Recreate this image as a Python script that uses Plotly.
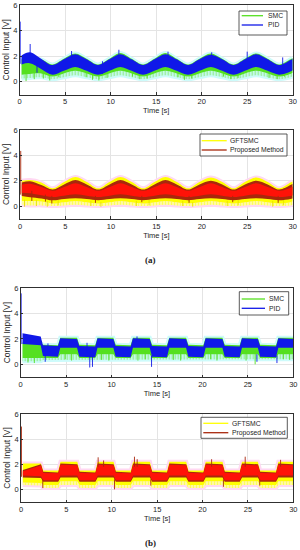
import plotly.graph_objects as go

# ---------------- (a) sinusoidal reference: envelope knots ----------------
ta = [0.2, 1.1, 2.35, 3.6, 4.85, 6.1, 7.35, 8.6, 9.85, 11.05, 12.3, 13.55, 14.8, 16.0, 17.25,
      18.5, 19.75, 21.0, 22.25, 23.5, 24.75, 26.0, 27.25, 28.5, 29.75, 30.0]

a_pid_hi = [2.05, 2.3, 1.8, 1.3, 1.75, 2.15, 1.75, 1.3, 1.75, 2.15, 1.75, 1.3, 1.75, 2.15, 1.75,
            1.3, 1.75, 2.1, 1.75, 1.3, 1.75, 2.15, 1.75, 1.3, 1.7, 1.8]
a_pid_lo = [1.35, 1.45, 1.0, 0.55, 0.85, 1.15, 0.85, 0.55, 0.85, 1.15, 0.85, 0.55, 0.85, 1.15, 0.85,
            0.55, 0.85, 1.15, 0.85, 0.55, 0.85, 1.15, 0.85, 0.55, 0.8, 0.9]
a_smc_hi = [1.75, 1.8, 1.75, 1.35, 1.8, 2.2, 1.8, 1.35, 1.8, 2.25, 1.8, 1.35, 1.8, 2.25, 1.8,
            1.35, 1.8, 2.2, 1.8, 1.35, 1.8, 2.2, 1.8, 1.35, 1.75, 1.85]
a_smc_mid = [0.55, 0.6, 0.65, 0.4, 0.65, 0.85, 0.65, 0.4, 0.65, 0.85, 0.65, 0.4, 0.65, 0.85, 0.65,
             0.4, 0.65, 0.85, 0.65, 0.4, 0.65, 0.85, 0.65, 0.4, 0.6, 0.7]
a_smc_lo = [0.25, 0.3, 0.35, 0.2, 0.35, 0.5, 0.35, 0.2, 0.35, 0.5, 0.35, 0.2, 0.35, 0.5, 0.35,
            0.2, 0.35, 0.5, 0.35, 0.2, 0.35, 0.5, 0.35, 0.2, 0.35, 0.4]

a_prop_hi = [1.85, 1.95, 1.65, 1.3, 1.7, 2.05, 1.7, 1.3, 1.7, 2.05, 1.7, 1.3, 1.7, 2.05, 1.7,
             1.3, 1.7, 2.0, 1.7, 1.3, 1.7, 2.0, 1.7, 1.3, 1.65, 1.75]
a_prop_core_hi = [1.7, 1.75, 1.5, 1.2, 1.5, 1.8, 1.5, 1.2, 1.5, 1.8, 1.5, 1.2, 1.5, 1.8, 1.5,
                  1.2, 1.5, 1.8, 1.5, 1.2, 1.5, 1.8, 1.5, 1.2, 1.45, 1.55]
a_prop_core_lo = [1.05, 1.0, 0.85, 0.72, 0.82, 0.92, 0.82, 0.72, 0.82, 0.92, 0.82, 0.72, 0.82, 0.92, 0.82,
                  0.72, 0.82, 0.92, 0.82, 0.72, 0.82, 0.92, 0.82, 0.72, 0.8, 0.85]
a_prop_lo = [0.8, 0.7, 0.6, 0.45, 0.55, 0.62, 0.55, 0.45, 0.55, 0.62, 0.55, 0.45, 0.55, 0.62, 0.55,
             0.45, 0.55, 0.62, 0.55, 0.45, 0.55, 0.62, 0.55, 0.45, 0.55, 0.6]
a_gft_hi = [2.0, 2.05, 1.85, 1.4, 1.9, 2.3, 1.9, 1.4, 1.9, 2.3, 1.9, 1.4, 1.9, 2.3, 1.9,
            1.4, 1.9, 2.25, 1.9, 1.4, 1.9, 2.25, 1.9, 1.4, 1.85, 1.95]
a_gft_mid = [0.4, 0.4, 0.35, 0.2, 0.3, 0.4, 0.3, 0.2, 0.3, 0.4, 0.3, 0.2, 0.3, 0.4, 0.3,
             0.2, 0.3, 0.4, 0.3, 0.2, 0.3, 0.4, 0.3, 0.2, 0.3, 0.35]
a_gft_lo = [0.1, 0.05, 0.05, 0.0, 0.05, 0.1, 0.05, 0.0, 0.05, 0.1, 0.05, 0.0, 0.05, 0.1, 0.05,
            0.0, 0.05, 0.1, 0.05, 0.0, 0.05, 0.1, 0.05, 0.0, 0.05, 0.1]

# spikes (time, low end, high end)
a_pid_spk_t = [0.05, 1.15, 1.9, 5.7, 9.1, 10.9, 16.3, 21.1, 25.0, 28.9]
a_pid_spk_lo = [1.4, 2.1, 0.7, 1.8, 0.6, 1.9, 1.9, 1.9, 1.8, 0.6]
a_pid_spk_hi = [4.7, 2.95, 1.4, 2.4, 1.6, 2.5, 2.35, 2.3, 2.35, 1.9]
a_smc_spk_t = [0.7, 1.6, 2.6, 3.3, 4.3, 7.3, 8.0, 8.7, 9.6, 12.4, 13.2, 14.0, 17.4, 18.1, 18.9,
               22.4, 23.2, 24.0, 27.4, 28.3, 29.1]
a_smc_spk_lo = [0.05, 0.2, 0.25, 0.1, 0.35, 0.35, 0.15, 0.1, 0.3, 0.4, 0.2, 0.25, 0.35, 0.15, 0.25,
                0.4, 0.2, 0.3, 0.3, 0.2, 0.4]
a_smc_spk_hi = [0.9, 0.9, 0.8, 0.6, 0.8, 0.8, 0.6, 0.6, 0.8, 0.9, 0.6, 0.7, 0.9, 0.6, 0.7,
                0.9, 0.6, 0.7, 0.8, 0.6, 0.8]
a_prop_spk_t = [0.08, 1.3, 2.8, 3.5, 8.3, 13.4, 18.6, 23.4, 28.4]
a_prop_spk_lo = [0.9, 0.4, 0.35, 0.2, 0.25, 0.3, 0.25, 0.3, 0.25]
a_prop_spk_hi = [4.35, 1.2, 0.9, 0.8, 0.8, 0.8, 0.8, 0.8, 0.8]
a_gft_spk_t = [0.5, 1.8, 3.0, 4.2, 7.8, 8.9, 12.8, 14.2, 17.9, 19.0, 22.8, 24.0, 27.8, 29.0]
a_gft_spk_lo = [-0.05, 0.0, -0.05, 0.05, 0.0, -0.05, 0.0, 0.05, 0.0, -0.05, 0.0, 0.05, -0.05, 0.05]
a_gft_spk_hi = [0.5, 0.5, 0.4, 0.5, 0.4, 0.3, 0.4, 0.5, 0.4, 0.3, 0.4, 0.5, 0.4, 0.5]

# ---------------- (b) square-wave reference ----------------
tb = [0.2, 2.2, 2.45, 4.1, 4.35, 6.2, 6.45, 8.2, 8.45, 10.2, 10.45, 12.1, 12.35, 14.2, 14.45,
      16.1, 16.35, 18.2, 18.45, 20.1, 20.35, 22.2, 22.45, 24.1, 24.35, 26.1, 26.35, 28.1, 28.35, 30.0]

b_pid_hi = [2.45, 2.2, 1.5, 1.45, 2.05, 2.0, 1.45, 1.4, 2.05, 2.0, 1.45, 1.4, 2.05, 2.0, 1.45,
            1.4, 2.05, 2.0, 1.45, 1.4, 2.05, 2.0, 1.45, 1.4, 2.05, 2.0, 1.45, 1.4, 2.05, 2.0]
b_pid_lo = [1.6, 1.5, 0.65, 0.6, 1.3, 1.3, 0.6, 0.55, 1.3, 1.3, 0.6, 0.55, 1.3, 1.3, 0.6,
            0.55, 1.3, 1.3, 0.6, 0.55, 1.3, 1.3, 0.6, 0.55, 1.3, 1.3, 0.6, 0.55, 1.3, 1.3]
b_smc_hi = [1.75, 1.7, 1.55, 1.5, 2.1, 2.1, 1.55, 1.5, 2.1, 2.1, 1.55, 1.5, 2.1, 2.1, 1.55,
            1.5, 2.1, 2.1, 1.55, 1.5, 2.1, 2.1, 1.55, 1.5, 2.1, 2.1, 1.55, 1.5, 2.1, 2.1]
b_smc_mid = [0.5, 0.5, 0.5, 0.5, 0.8, 0.8, 0.5, 0.5, 0.8, 0.8, 0.5, 0.5, 0.8, 0.8, 0.5,
             0.5, 0.8, 0.8, 0.5, 0.5, 0.8, 0.8, 0.5, 0.5, 0.8, 0.8, 0.5, 0.5, 0.8, 0.8]
b_smc_lo = [0.25, 0.25, 0.35, 0.35, 0.4, 0.4, 0.35, 0.35, 0.4, 0.4, 0.35, 0.35, 0.4, 0.4, 0.35,
            0.35, 0.4, 0.4, 0.35, 0.35, 0.4, 0.4, 0.35, 0.35, 0.4, 0.4, 0.35, 0.35, 0.4, 0.4]

b_prop_hi = [1.55, 2.0, 1.4, 1.35, 2.05, 2.0, 1.4, 1.35, 2.05, 2.0, 1.4, 1.35, 2.05, 2.0, 1.4,
             1.35, 2.05, 2.0, 1.4, 1.35, 2.05, 2.0, 1.4, 1.35, 2.05, 2.0, 1.4, 1.35, 2.05, 2.0]
b_prop_core_hi = [1.45, 1.9, 1.3, 1.28, 1.95, 1.92, 1.3, 1.28, 1.95, 1.92, 1.3, 1.28, 1.95, 1.92, 1.3,
                  1.28, 1.95, 1.92, 1.3, 1.28, 1.95, 1.92, 1.3, 1.28, 1.95, 1.92, 1.3, 1.28, 1.95, 1.92]
b_prop_core_lo = [1.1, 1.05, 0.72, 0.72, 1.1, 1.1, 0.72, 0.72, 1.1, 1.1, 0.72, 0.72, 1.1, 1.1, 0.72,
                  0.72, 1.1, 1.1, 0.72, 0.72, 1.1, 1.1, 0.72, 0.72, 1.1, 1.1, 0.72, 0.72, 1.1, 1.1]
b_prop_lo = [0.95, 0.9, 0.6, 0.6, 0.95, 0.95, 0.6, 0.6, 0.95, 0.95, 0.6, 0.6, 0.95, 0.95, 0.6,
             0.6, 0.95, 0.95, 0.6, 0.6, 0.95, 0.95, 0.6, 0.6, 0.95, 0.95, 0.6, 0.6, 0.95, 0.95]
b_gft_hi = [2.05, 2.05, 1.5, 1.5, 2.2, 2.2, 1.5, 1.5, 2.2, 2.2, 1.5, 1.5, 2.2, 2.2, 1.5,
            1.5, 2.2, 2.2, 1.5, 1.5, 2.2, 2.2, 1.5, 1.5, 2.2, 2.2, 1.5, 1.5, 2.2, 2.2]
b_gft_mid = [0.55, 0.5, 0.35, 0.35, 0.65, 0.65, 0.35, 0.35, 0.65, 0.65, 0.35, 0.35, 0.65, 0.65, 0.35,
             0.35, 0.65, 0.65, 0.35, 0.35, 0.65, 0.65, 0.35, 0.35, 0.65, 0.65, 0.35, 0.35, 0.65, 0.65]
b_gft_lo = [0.35, 0.3, 0.1, 0.1, 0.35, 0.35, 0.1, 0.1, 0.35, 0.35, 0.1, 0.1, 0.35, 0.35, 0.1,
            0.1, 0.35, 0.35, 0.1, 0.1, 0.35, 0.35, 0.1, 0.1, 0.35, 0.35, 0.1, 0.1, 0.35, 0.35]

b_pid_spk_t = [0.05, 2.7, 3.0, 7.3, 7.6, 7.9, 12.8, 14.4, 26.0, 28.2]
b_pid_spk_lo = [1.6, 0.2, 0.9, 0.9, -0.25, -0.2, 1.8, -0.2, 0.2, 0.1]
b_pid_spk_hi = [5.6, 0.8, 1.65, 1.7, 0.7, 0.7, 2.2, 0.7, 0.8, 0.7]
b_smc_spk_t = [0.8, 1.5, 4.9, 5.6, 8.9, 9.7, 12.9, 13.7, 16.8, 17.6, 20.9, 21.6, 24.8, 25.8, 28.9, 29.6]
b_smc_spk_lo = [0.15, 0.1, 0.4, 0.3, 0.35, 0.3, 0.3, 0.4, 0.35, 0.3, 0.4, 0.3, 0.3, 0.0, 0.4, 0.35]
b_smc_spk_hi = [0.8, 0.8, 1.0, 1.0, 1.0, 1.0, 1.0, 1.0, 1.0, 1.0, 1.0, 1.0, 1.0, 1.0, 1.0, 1.0]
b_prop_spk_t = [0.05, 2.4, 8.5, 9.1, 10.3, 12.5, 12.8, 14.3, 21.0, 22.3, 24.7, 26.3, 28.6]
b_prop_spk_lo = [1.0, 0.1, 1.8, 1.8, 0.0, 1.8, 1.8, 0.3, 1.8, 0.2, 1.8, 0.3, 1.8]
b_prop_spk_hi = [5.0, 0.8, 2.55, 2.3, 0.8, 2.6, 2.4, 0.8, 2.4, 0.8, 2.6, 0.8, 2.35]

x_ticks = [0, 5, 10, 15, 20, 25, 30]
y_ticks = [0, 2, 4, 6]

# ---------------- styling ----------------
GREEN = '#55e020'
BLUE = '#1018e8'
YELLOW = '#ffff00'
DARKRED = '#a8280c'
RED = '#ff1208'
CYAN_HALO = '#cdfbfb'
PINK_HALO = '#ffd8f2'
AXC = '#303030'
TXT = '#262626'
FONT = 'Liberation Sans'

fig = go.Figure()


def band(ax, t, lo, hi, color, shape, halo=None, pattern=False):
    xa, ya = ax
    lw = 4 if halo else 0
    lc = halo if halo else color
    fig.add_trace(go.Scatter(x=t, y=lo, mode='lines', line=dict(width=lw, color=lc, shape=shape),
                             xaxis=xa, yaxis=ya, showlegend=False, hoverinfo='skip'))
    kw = dict(fill='tonexty', fillcolor=halo if halo else color)
    if pattern:
        kw['fillpattern'] = dict(shape='|', fgcolor=color, bgcolor=CYAN_HALO if color == GREEN else '#fffbb0',
                                 size=3, solidity=0.45)
    fig.add_trace(go.Scatter(x=t, y=hi, mode='lines', line=dict(width=lw, color=lc, shape=shape),
                             xaxis=xa, yaxis=ya, showlegend=False, hoverinfo='skip', **kw))


def spikes(ax, t, lo, hi, color, w=0.9):
    xs, ys = [], []
    for ti, l, h in zip(t, lo, hi):
        xs += [ti, ti, None]
        ys += [l, h, None]
    fig.add_trace(go.Scatter(x=xs, y=ys, mode='lines', line=dict(width=w, color=color),
                             xaxis=ax[0], yaxis=ax[1], showlegend=False, hoverinfo='skip'))


A1, A2, A3, A4 = ('x', 'y'), ('x2', 'y2'), ('x3', 'y3'), ('x4', 'y4')

# panel 1: SMC vs PID (sinusoidal)
band(A1, ta, a_smc_lo, a_smc_hi, CYAN_HALO, 'spline', halo=CYAN_HALO)
band(A1, ta, a_smc_lo, a_smc_mid, GREEN, 'spline', pattern=True)
band(A1, ta, a_smc_mid, a_smc_hi, GREEN, 'spline')
spikes(A1, a_smc_spk_t, a_smc_spk_lo, a_smc_spk_hi, GREEN)
band(A1, ta, a_pid_lo, a_pid_hi, BLUE, 'spline')
spikes(A1, a_pid_spk_t, a_pid_spk_lo, a_pid_spk_hi, BLUE)

# panel 2: GFTSMC vs Proposed (sinusoidal)
band(A2, ta, a_gft_lo, a_gft_hi, PINK_HALO, 'spline', halo=PINK_HALO)
band(A2, ta, a_gft_lo, a_gft_mid, YELLOW, 'spline', pattern=True)
band(A2, ta, a_gft_mid, a_gft_hi, YELLOW, 'spline')
spikes(A2, a_gft_spk_t, a_gft_spk_lo, a_gft_spk_hi, '#e8e000')
band(A2, ta, a_prop_lo, a_prop_hi, DARKRED, 'spline')
band(A2, ta, a_prop_core_lo, a_prop_core_hi, RED, 'spline')
spikes(A2, a_prop_spk_t, a_prop_spk_lo, a_prop_spk_hi, DARKRED)

# panel 3: SMC vs PID (square wave)
band(A3, tb, b_smc_lo, b_smc_hi, CYAN_HALO, 'linear', halo=CYAN_HALO)
band(A3, tb, b_smc_lo, b_smc_mid, GREEN, 'linear', pattern=True)
band(A3, tb, b_smc_mid, b_smc_hi, GREEN, 'linear')
spikes(A3, b_smc_spk_t, b_smc_spk_lo, b_smc_spk_hi, GREEN)
band(A3, tb, b_pid_lo, b_pid_hi, BLUE, 'linear')
spikes(A3, b_pid_spk_t, b_pid_spk_lo, b_pid_spk_hi, BLUE)

# panel 4: GFTSMC vs Proposed (square wave)
band(A4, tb, b_gft_lo, b_gft_hi, PINK_HALO, 'linear', halo=PINK_HALO)
band(A4, tb, b_gft_lo, b_gft_mid, YELLOW, 'linear', pattern=True)
band(A4, tb, b_gft_mid, b_gft_hi, YELLOW, 'linear')
band(A4, tb, b_prop_lo, b_prop_hi, DARKRED, 'linear')
band(A4, tb, b_prop_core_lo, b_prop_core_hi, RED, 'linear')
spikes(A4, b_prop_spk_t, b_prop_spk_lo, b_prop_spk_hi, DARKRED)

W, H = 300, 550
xdoms = [(19.7, 292.7), (20.0, 292.7), (20.7, 293.3), (21.0, 293.3)]
ydoms = [(5.0, 94.5), (130.0, 218.7), (288.3, 377.0), (414.0, 501.9)]

layout = dict(width=W, height=H, margin=dict(l=0, r=0, t=0, b=0, autoexpand=False), paper_bgcolor='white',
              plot_bgcolor='white', showlegend=False, font=dict(family=FONT, color=TXT))
for i in range(4):
    sx = '' if i == 0 else str(i + 1)
    layout['xaxis' + sx] = dict(
        domain=[xdoms[i][0] / W, xdoms[i][1] / W], anchor='y' + sx, range=[0, 30],
        tickvals=x_ticks, showgrid=True, gridcolor='#e4e4e4', gridwidth=0.6, automargin=False,
        showline=True, linecolor=AXC, linewidth=0.8, mirror=True, ticks='inside', ticklen=2.5,
        tickcolor=AXC, tickwidth=0.6, zeroline=False, tickfont=dict(size=7.5, color=TXT),
        ticklabeloverflow='allow',
        title=dict(text='Time [s]', font=dict(size=7.5, color=TXT), standoff=1))
    layout['yaxis' + sx] = dict(
        domain=[1 - ydoms[i][1] / H, 1 - ydoms[i][0] / H], anchor='x' + sx, range=[-1, 6],
        tickvals=y_ticks, showgrid=True, gridcolor='#e4e4e4', gridwidth=0.6, automargin=False,
        showline=True, linecolor=AXC, linewidth=0.8, mirror=True, ticks='inside', ticklen=2.5,
        tickcolor=AXC, tickwidth=0.6, zeroline=False, tickfont=dict(size=7.5, color=TXT),
        ticklabeloverflow='allow',
        title=dict(text='Control Input [V]', font=dict(size=8.5, color=TXT), standoff=2))
fig.update_layout(**layout)

# legends (MATLAB-style boxes)
legends = [
    dict(box=(239, 11, 287, 35), line=(241.7, 263), tx=266.7, rows=[(15.7, 'SMC', GREEN), (25.0, 'PID', BLUE)]),
    dict(box=(200, 134, 287, 156), line=(201.7, 226.7), tx=229.3,
         rows=[(140.7, 'GFTSMC', YELLOW), (150.0, 'Proposed Method', DARKRED)]),
    dict(box=(239.3, 291.7, 288.7, 315), line=(241.7, 265), tx=268.3,
         rows=[(299.0, 'SMC', GREEN), (308.3, 'PID', BLUE)]),
    dict(box=(201, 417.3, 287.3, 438.3), line=(203.3, 228.3), tx=231,
         rows=[(423.3, 'GFTSMC', YELLOW), (432.7, 'Proposed Method', DARKRED)]),
]
for lg in legends:
    x0, y0, x1, y1 = lg['box']
    fig.add_shape(type='rect', xref='paper', yref='paper', x0=x0 / W, x1=x1 / W, y0=1 - y1 / H, y1=1 - y0 / H,
                  line=dict(color=AXC, width=0.8), fillcolor='white', layer='above')
    for yy, name, col in lg['rows']:
        fig.add_shape(type='line', xref='paper', yref='paper', x0=lg['line'][0] / W, x1=lg['line'][1] / W,
                      y0=1 - yy / H, y1=1 - yy / H, line=dict(color=col, width=1.3), layer='above')
        fig.add_annotation(xref='paper', yref='paper', x=lg['tx'] / W, y=1 - yy / H, text=name,
                           showarrow=False, xanchor='left', yanchor='middle', borderpad=0,
                           font=dict(size=6.8, color=TXT, family=FONT))

for lab, yy in [('(a)', 260), ('(b)', 543)]:
    fig.add_annotation(xref='paper', yref='paper', x=0.5, y=1 - yy / H, text='<b>' + lab + '</b>',
                       showarrow=False, xanchor='center', yanchor='middle',
                       font=dict(size=9, color='#222222', family='Liberation Serif'))

fig.write_html('out.html', config={'displayModeBar': False},
               post_script="document.body.style.margin='0';document.body.style.overflow='hidden';")
